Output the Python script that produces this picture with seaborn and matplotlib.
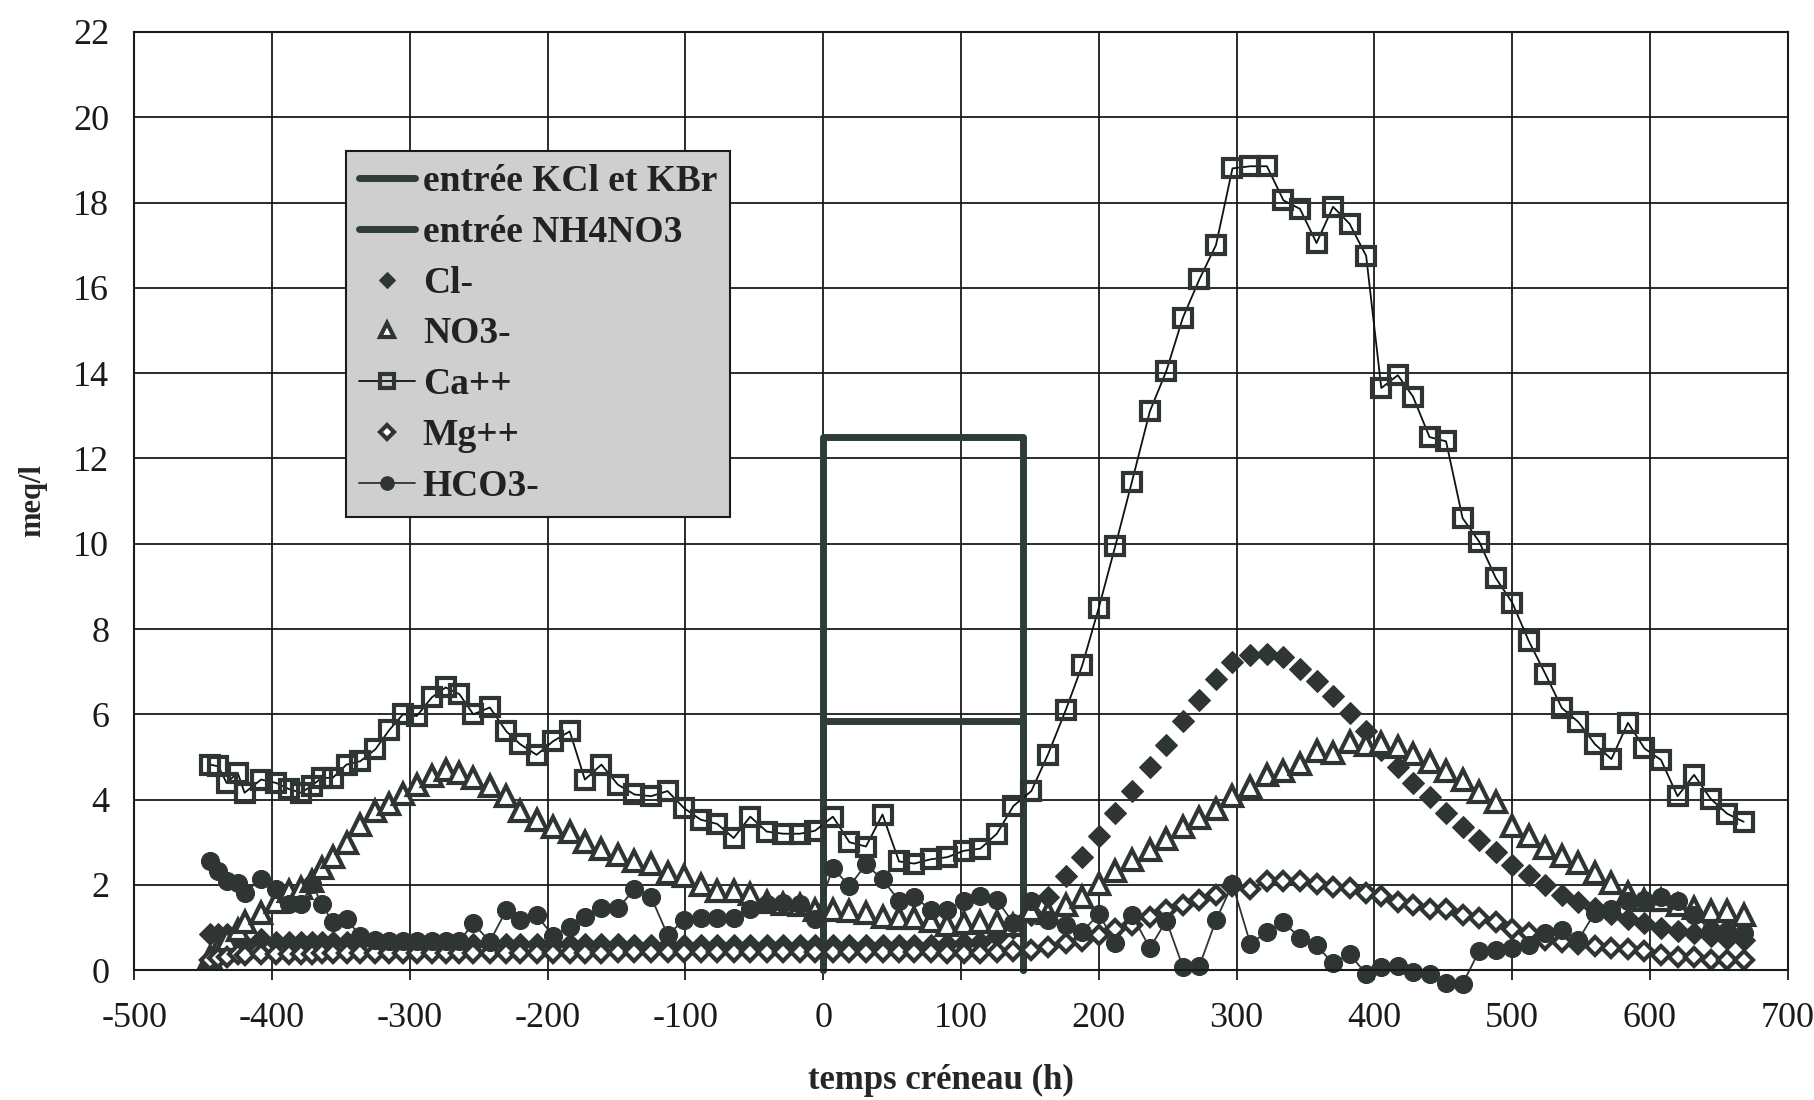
import seaborn as sns
import matplotlib.pyplot as plt
import pandas as pd

# sampling times (h) and concentrations (meq/l)
t = [-445, -439, -433, -425, -420, -408, -397, -388, -379, -371,
     -364, -356, -346, -336, -325, -315, -305, -295, -284, -274,
     -264, -254, -242, -230, -220, -208, -196, -184, -173, -161,
     -149, -137, -125, -113, -101, -89, -77, -65, -53, -41,
     -29, -17, -6, 7, 19, 31, 43, 55, 66, 78,
     90, 102, 114, 126, 138, 151, 163, 176, 188, 200,
     212, 224, 237, 249, 261, 273, 285, 297, 310, 322,
     334, 346, 358, 370, 382, 394, 405, 417, 428, 440,
     452, 464, 476, 488, 500, 512, 524, 536, 548, 560,
     572, 584, 596, 608, 620, 632, 644, 656, 668]

ca = [4.82, 4.78, 4.39, 4.63, 4.16, 4.47, 4.39, 4.25, 4.16, 4.33,
      4.51, 4.51, 4.82, 4.90, 5.18, 5.63, 6.00, 5.96, 6.40, 6.63,
      6.47, 6.00, 6.16, 5.60, 5.30, 5.05, 5.37, 5.60, 4.47, 4.82,
      4.35, 4.12, 4.08, 4.20, 3.80, 3.53, 3.43, 3.10, 3.60, 3.25,
      3.20, 3.20, 3.27, 3.60, 3.00, 2.90, 3.65, 2.55, 2.50, 2.60,
      2.65, 2.80, 2.85, 3.20, 3.85, 4.20, 5.05, 6.10, 7.15, 8.50,
      9.95, 11.45, 13.10, 14.05, 15.30, 16.20, 17.00, 18.80, 18.85, 18.85,
      18.05, 17.85, 17.05, 17.90, 17.50, 16.75, 13.65, 13.95, 13.45, 12.50,
      12.40, 10.60, 10.05, 9.20, 8.62, 7.72, 6.95, 6.15, 5.82, 5.30,
      4.95, 5.80, 5.20, 4.93, 4.08, 4.58, 4.02, 3.67, 3.48]

cl = [0.85, 0.85, 0.85, 0.75, 0.60, 0.72, 0.65, 0.65, 0.65, 0.65,
      0.65, 0.65, 0.65, 0.65, 0.65, 0.62, 0.62, 0.62, 0.62, 0.62,
      0.62, 0.62, 0.62, 0.62, 0.62, 0.62, 0.62, 0.62, 0.62, 0.62,
      0.62, 0.60, 0.60, 0.60, 0.60, 0.60, 0.60, 0.60, 0.60, 0.60,
      0.60, 0.60, 0.58, 0.60, 0.60, 0.60, 0.60, 0.60, 0.60, 0.60,
      0.62, 0.63, 0.65, 0.80, 1.00, 1.30, 1.72, 2.20, 2.66, 3.15,
      3.68, 4.20, 4.76, 5.28, 5.84, 6.33, 6.82, 7.22, 7.40, 7.42,
      7.35, 7.06, 6.78, 6.42, 6.02, 5.62, 5.17, 4.76, 4.38, 4.06,
      3.68, 3.36, 3.06, 2.78, 2.46, 2.23, 1.99, 1.76, 1.60, 1.46,
      1.31, 1.19, 1.11, 0.98, 0.92, 0.88, 0.81, 0.74, 0.70]

no3 = [0.30, 0.50, 0.70, 0.95, 1.14, 1.33, 1.60, 1.85, 1.92, 2.10,
       2.40, 2.65, 2.98, 3.41, 3.73, 3.90, 4.12, 4.35, 4.56, 4.70,
       4.63, 4.51, 4.31, 4.08, 3.73, 3.52, 3.35, 3.23, 3.00, 2.85,
       2.70, 2.55, 2.50, 2.28, 2.22, 2.00, 1.85, 1.85, 1.78, 1.60,
       1.55, 1.52, 1.40, 1.42, 1.38, 1.33, 1.25, 1.22, 1.22, 1.15,
       1.07, 1.10, 1.13, 1.13, 1.05, 1.40, 1.35, 1.52, 1.72, 2.03,
       2.32, 2.58, 2.82, 3.08, 3.35, 3.58, 3.78, 4.08, 4.30, 4.58,
       4.67, 4.83, 5.14, 5.10, 5.34, 5.27, 5.33, 5.23, 5.06, 4.89,
       4.67, 4.45, 4.18, 3.95, 3.38, 3.14, 2.87, 2.67, 2.51, 2.28,
       2.04, 1.81, 1.65, 1.65, 1.53, 1.45, 1.38, 1.38, 1.30]

mg = [0.25, 0.28, 0.30, 0.38, 0.35, 0.38, 0.38, 0.38, 0.38, 0.38,
      0.40, 0.40, 0.40, 0.40, 0.40, 0.40, 0.40, 0.40, 0.40, 0.40,
      0.40, 0.40, 0.40, 0.40, 0.40, 0.40, 0.40, 0.40, 0.40, 0.40,
      0.42, 0.42, 0.42, 0.42, 0.42, 0.42, 0.42, 0.42, 0.42, 0.42,
      0.42, 0.42, 0.42, 0.42, 0.42, 0.42, 0.42, 0.42, 0.42, 0.42,
      0.40, 0.40, 0.40, 0.42, 0.45, 0.47, 0.55, 0.64, 0.68, 0.82,
      0.97, 1.07, 1.24, 1.41, 1.52, 1.65, 1.77, 1.97, 1.91, 2.08,
      2.10, 2.09, 2.03, 1.94, 1.93, 1.80, 1.75, 1.59, 1.53, 1.44,
      1.43, 1.30, 1.22, 1.13, 0.96, 0.88, 0.71, 0.66, 0.61, 0.56,
      0.51, 0.50, 0.45, 0.36, 0.32, 0.31, 0.25, 0.24, 0.23]

hco3 = [2.57, 2.33, 2.08, 2.04, 1.82, 2.14, 1.90, 1.55, 1.55, 2.02,
        1.56, 1.12, 1.20, 0.80, 0.70, 0.68, 0.68, 0.68, 0.68, 0.68,
        0.68, 1.10, 0.67, 1.41, 1.18, 1.29, 0.80, 1.02, 1.25, 1.45,
        1.45, 1.90, 1.72, 0.83, 1.17, 1.23, 1.23, 1.23, 1.43, 1.56,
        1.57, 1.55, 1.20, 2.40, 1.97, 2.48, 2.13, 1.63, 1.72, 1.42,
        1.42, 1.62, 1.75, 1.65, 1.10, 1.62, 1.18, 1.05, 0.90, 1.32,
        0.63, 1.30, 0.52, 1.16, 0.08, 0.10, 1.17, 2.02, 0.62, 0.90,
        1.12, 0.76, 0.58, 0.16, 0.38, -0.09, 0.07, 0.09, -0.05, -0.10,
        -0.30, -0.32, 0.45, 0.48, 0.51, 0.58, 0.88, 0.95, 0.71, 1.35,
        1.44, 1.62, 1.65, 1.72, 1.63, 1.30, 0.94, 0.93, 0.88]

# input pulses (rectangles)
kcl_t = [0, 0, 145, 145]
kcl_c = [0, 12.5, 12.5, 0]
nh4_t = [0, 0, 145, 145]
nh4_c = [0, 5.85, 5.85, 0]

sns.set_theme(style='white')
plt.rcParams['font.family'] = ['Liberation Serif', 'DejaVu Serif']
plt.rcParams['text.color'] = '#222222'
plt.rcParams['axes.unicode_minus'] = False

df = pd.DataFrame({'t': t, 'Cl-': cl, 'NO3-': no3, 'Ca++': ca,
                   'Mg++': mg, 'HCO3-': hco3})

ink = '#2e3532'
green = '#2f3d37'

fig = plt.figure(figsize=(18.15, 11), dpi=100)
ax = fig.add_axes([0.074, 0.118, 0.911, 0.853])

sns.lineplot(x=kcl_t, y=kcl_c, sort=False, estimator=None, color=green,
             linewidth=5, label='entrée KCl et KBr', ax=ax, clip_on=False)
sns.lineplot(x=nh4_t, y=nh4_c, sort=False, estimator=None, color=green,
             linewidth=5, label='entrée NH4NO3', ax=ax, clip_on=False)

sns.lineplot(data=df, x='t', y='Cl-', estimator=None, linestyle='none',
             marker='D', markersize=11, color=ink, markeredgecolor=ink,
             label='Cl-', ax=ax)
sns.lineplot(data=df, x='t', y='NO3-', estimator=None, linestyle='none',
             marker='^', markersize=14, markerfacecolor='white',
             markeredgecolor=ink, markeredgewidth=3, color=ink,
             label='NO3-', ax=ax)
sns.lineplot(data=df, x='t', y='Ca++', estimator=None, linewidth=1.3,
             marker='s', markersize=12.5, markerfacecolor='none',
             markeredgecolor=ink, markeredgewidth=3, color='#111111',
             label='Ca++', ax=ax)
sns.lineplot(data=df, x='t', y='Mg++', estimator=None, linestyle='none',
             marker='D', markersize=9, markerfacecolor='white',
             markeredgecolor=ink, markeredgewidth=3, color=ink,
             label='Mg++', ax=ax)
sns.lineplot(data=df, x='t', y='HCO3-', estimator=None, linewidth=1.3,
             marker='o', markersize=13, markeredgecolor=ink, color=ink,
             label='HCO3-', ax=ax, clip_on=False)

ax.set_xlim(-500, 700)
ax.set_ylim(0, 22)
ax.set_xticks(range(-500, 701, 100))
ax.set_yticks(range(0, 23, 2))
ax.grid(True, color='#1a1a1a', linewidth=1.3)
ax.set_axisbelow(True)
for s in ax.spines.values():
    s.set_color('#1a1a1a')
    s.set_linewidth(1.5)

ax.tick_params(axis='x', direction='out', length=7, width=1.3, pad=16,
               labelsize=26, colors='#1a1a1a', bottom=True)
ax.tick_params(axis='y', length=0, pad=18, labelsize=26, colors='#1a1a1a')

ax.set_xlabel('temps créneau (h)', fontsize=25, fontweight='bold')
ax.set_ylabel('meq/l', fontsize=22, fontweight='bold')
ax.xaxis.set_label_coords(0.488, -0.1)
ax.yaxis.set_label_coords(-0.053, 0.5)

leg = ax.legend(loc='upper left', bbox_to_anchor=(0.128, 0.873),
                prop={'weight': 'bold', 'size': 27}, frameon=True,
                fancybox=False, facecolor='#cfcfcf', edgecolor='#1a1a1a',
                framealpha=1, handlelength=1.5, handletextpad=0.2,
                labelspacing=0.42, borderpad=0.35, borderaxespad=0,
                markerscale=0.75)
leg.get_frame().set_linewidth(1.5)

fig.savefig('out.png', dpi=100)
